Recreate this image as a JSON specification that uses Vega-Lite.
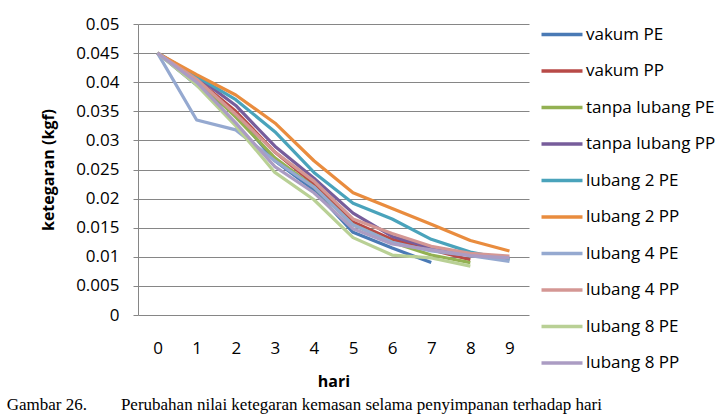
{
  "$schema": "https://vega.github.io/schema/vega-lite/v6.json",
  "autosize": "none",
  "width": 391,
  "height": 291,
  "padding": {"left": 138, "top": 24, "right": 197, "bottom": 101},
  "background": "white",
  "title": {
    "text": "Gambar 26.\u00a0\u00a0\u00a0\u00a0\u00a0\u00a0\u00a0\u00a0Perubahan nilai ketegaran kemasan selama penyimpanan terhadap hari",
    "orient": "bottom",
    "anchor": "start",
    "frame": "bounds",
    "font": "Liberation Serif",
    "fontSize": 17,
    "fontWeight": "normal",
    "color": "black",
    "baseline": "top",
    "offset": 8,
    "dx": -34
  },
  "data": {
    "values": [
      {"hari": 0, "seri": "vakum PE", "ketegaran": 0.045},
      {"hari": 1, "seri": "vakum PE", "ketegaran": 0.0395},
      {"hari": 2, "seri": "vakum PE", "ketegaran": 0.0345},
      {"hari": 3, "seri": "vakum PE", "ketegaran": 0.0265},
      {"hari": 4, "seri": "vakum PE", "ketegaran": 0.0215},
      {"hari": 5, "seri": "vakum PE", "ketegaran": 0.0142},
      {"hari": 6, "seri": "vakum PE", "ketegaran": 0.0115},
      {"hari": 7, "seri": "vakum PE", "ketegaran": 0.009},

      {"hari": 0, "seri": "vakum PP", "ketegaran": 0.045},
      {"hari": 1, "seri": "vakum PP", "ketegaran": 0.0405},
      {"hari": 2, "seri": "vakum PP", "ketegaran": 0.035},
      {"hari": 3, "seri": "vakum PP", "ketegaran": 0.028},
      {"hari": 4, "seri": "vakum PP", "ketegaran": 0.0225},
      {"hari": 5, "seri": "vakum PP", "ketegaran": 0.016},
      {"hari": 6, "seri": "vakum PP", "ketegaran": 0.013},
      {"hari": 7, "seri": "vakum PP", "ketegaran": 0.0112},
      {"hari": 8, "seri": "vakum PP", "ketegaran": 0.0095},

      {"hari": 0, "seri": "tanpa lubang PE", "ketegaran": 0.045},
      {"hari": 1, "seri": "tanpa lubang PE", "ketegaran": 0.0405},
      {"hari": 2, "seri": "tanpa lubang PE", "ketegaran": 0.034},
      {"hari": 3, "seri": "tanpa lubang PE", "ketegaran": 0.027},
      {"hari": 4, "seri": "tanpa lubang PE", "ketegaran": 0.022},
      {"hari": 5, "seri": "tanpa lubang PE", "ketegaran": 0.0155},
      {"hari": 6, "seri": "tanpa lubang PE", "ketegaran": 0.0125},
      {"hari": 7, "seri": "tanpa lubang PE", "ketegaran": 0.0103},
      {"hari": 8, "seri": "tanpa lubang PE", "ketegaran": 0.009},

      {"hari": 0, "seri": "tanpa lubang PP", "ketegaran": 0.045},
      {"hari": 1, "seri": "tanpa lubang PP", "ketegaran": 0.041},
      {"hari": 2, "seri": "tanpa lubang PP", "ketegaran": 0.036},
      {"hari": 3, "seri": "tanpa lubang PP", "ketegaran": 0.029},
      {"hari": 4, "seri": "tanpa lubang PP", "ketegaran": 0.0235},
      {"hari": 5, "seri": "tanpa lubang PP", "ketegaran": 0.0175},
      {"hari": 6, "seri": "tanpa lubang PP", "ketegaran": 0.0135},
      {"hari": 7, "seri": "tanpa lubang PP", "ketegaran": 0.0115},
      {"hari": 8, "seri": "tanpa lubang PP", "ketegaran": 0.0104},
      {"hari": 9, "seri": "tanpa lubang PP", "ketegaran": 0.0097},

      {"hari": 0, "seri": "lubang 2 PE", "ketegaran": 0.045},
      {"hari": 1, "seri": "lubang 2 PE", "ketegaran": 0.041},
      {"hari": 2, "seri": "lubang 2 PE", "ketegaran": 0.037},
      {"hari": 3, "seri": "lubang 2 PE", "ketegaran": 0.0315},
      {"hari": 4, "seri": "lubang 2 PE", "ketegaran": 0.0245},
      {"hari": 5, "seri": "lubang 2 PE", "ketegaran": 0.0192},
      {"hari": 6, "seri": "lubang 2 PE", "ketegaran": 0.0165},
      {"hari": 7, "seri": "lubang 2 PE", "ketegaran": 0.013},
      {"hari": 8, "seri": "lubang 2 PE", "ketegaran": 0.0108},
      {"hari": 9, "seri": "lubang 2 PE", "ketegaran": 0.0095},

      {"hari": 0, "seri": "lubang 2 PP", "ketegaran": 0.045},
      {"hari": 1, "seri": "lubang 2 PP", "ketegaran": 0.0413},
      {"hari": 2, "seri": "lubang 2 PP", "ketegaran": 0.0378},
      {"hari": 3, "seri": "lubang 2 PP", "ketegaran": 0.033},
      {"hari": 4, "seri": "lubang 2 PP", "ketegaran": 0.0265},
      {"hari": 5, "seri": "lubang 2 PP", "ketegaran": 0.021},
      {"hari": 6, "seri": "lubang 2 PP", "ketegaran": 0.0183},
      {"hari": 7, "seri": "lubang 2 PP", "ketegaran": 0.0156},
      {"hari": 8, "seri": "lubang 2 PP", "ketegaran": 0.0128},
      {"hari": 9, "seri": "lubang 2 PP", "ketegaran": 0.011},

      {"hari": 0, "seri": "lubang 4 PE", "ketegaran": 0.045},
      {"hari": 1, "seri": "lubang 4 PE", "ketegaran": 0.0335},
      {"hari": 2, "seri": "lubang 4 PE", "ketegaran": 0.0318},
      {"hari": 3, "seri": "lubang 4 PE", "ketegaran": 0.0265},
      {"hari": 4, "seri": "lubang 4 PE", "ketegaran": 0.022},
      {"hari": 5, "seri": "lubang 4 PE", "ketegaran": 0.0155},
      {"hari": 6, "seri": "lubang 4 PE", "ketegaran": 0.0125},
      {"hari": 7, "seri": "lubang 4 PE", "ketegaran": 0.011},
      {"hari": 8, "seri": "lubang 4 PE", "ketegaran": 0.0102},
      {"hari": 9, "seri": "lubang 4 PE", "ketegaran": 0.0092},

      {"hari": 0, "seri": "lubang 4 PP", "ketegaran": 0.045},
      {"hari": 1, "seri": "lubang 4 PP", "ketegaran": 0.0405},
      {"hari": 2, "seri": "lubang 4 PP", "ketegaran": 0.0345},
      {"hari": 3, "seri": "lubang 4 PP", "ketegaran": 0.028},
      {"hari": 4, "seri": "lubang 4 PP", "ketegaran": 0.023},
      {"hari": 5, "seri": "lubang 4 PP", "ketegaran": 0.0165},
      {"hari": 6, "seri": "lubang 4 PP", "ketegaran": 0.014},
      {"hari": 7, "seri": "lubang 4 PP", "ketegaran": 0.0118},
      {"hari": 8, "seri": "lubang 4 PP", "ketegaran": 0.0106},
      {"hari": 9, "seri": "lubang 4 PP", "ketegaran": 0.0101},

      {"hari": 0, "seri": "lubang 8 PE", "ketegaran": 0.045},
      {"hari": 1, "seri": "lubang 8 PE", "ketegaran": 0.0395},
      {"hari": 2, "seri": "lubang 8 PE", "ketegaran": 0.0325},
      {"hari": 3, "seri": "lubang 8 PE", "ketegaran": 0.0245},
      {"hari": 4, "seri": "lubang 8 PE", "ketegaran": 0.0198},
      {"hari": 5, "seri": "lubang 8 PE", "ketegaran": 0.0133},
      {"hari": 6, "seri": "lubang 8 PE", "ketegaran": 0.0103},
      {"hari": 7, "seri": "lubang 8 PE", "ketegaran": 0.0098},
      {"hari": 8, "seri": "lubang 8 PE", "ketegaran": 0.0084},

      {"hari": 0, "seri": "lubang 8 PP", "ketegaran": 0.045},
      {"hari": 1, "seri": "lubang 8 PP", "ketegaran": 0.04},
      {"hari": 2, "seri": "lubang 8 PP", "ketegaran": 0.033},
      {"hari": 3, "seri": "lubang 8 PP", "ketegaran": 0.0255},
      {"hari": 4, "seri": "lubang 8 PP", "ketegaran": 0.021},
      {"hari": 5, "seri": "lubang 8 PP", "ketegaran": 0.0148},
      {"hari": 6, "seri": "lubang 8 PP", "ketegaran": 0.0122},
      {"hari": 7, "seri": "lubang 8 PP", "ketegaran": 0.0112},
      {"hari": 8, "seri": "lubang 8 PP", "ketegaran": 0.0102},
      {"hari": 9, "seri": "lubang 8 PP", "ketegaran": 0.0098}
    ]
  },
  "mark": {"type": "line", "strokeWidth": 3.2, "strokeJoin": "round"},
  "encoding": {
    "x": {
      "field": "hari",
      "type": "ordinal",
      "scale": {"type": "point", "padding": 0.5},
      "axis": {
        "title": "hari",
        "labelAngle": 0,
        "ticks": false,
        "domain": false,
        "labelPadding": 25,
        "titlePadding": 17
      }
    },
    "y": {
      "field": "ketegaran",
      "type": "quantitative",
      "scale": {"domain": [0, 0.05], "nice": false},
      "axis": {
        "title": "ketegaran (kgf)",
        "values": [0, 0.005, 0.01, 0.015, 0.02, 0.025, 0.03, 0.035, 0.04, 0.045, 0.05],
        "format": "~g",
        "grid": true,
        "tickSize": 5,
        "labelPadding": 14,
        "titlePadding": 19
      }
    },
    "color": {
      "field": "seri",
      "type": "nominal",
      "scale": {
        "domain": ["vakum PE", "vakum PP", "tanpa lubang PE", "tanpa lubang PP", "lubang 2 PE", "lubang 2 PP", "lubang 4 PE", "lubang 4 PP", "lubang 8 PE", "lubang 8 PP"],
        "range": ["#4a7ab5", "#b84a47", "#93b152", "#775d9b", "#4aa3bb", "#e98c3e", "#95a9d0", "#d49794", "#b9d095", "#ab9cc3"]
      },
      "legend": {
        "title": null,
        "orient": "none",
        "legendX": 412,
        "legendY": -1.5,
        "symbolType": "M-2,0H2",
        "symbolSize": 420,
        "symbolStrokeWidth": 3.5,
        "labelOffset": 12,
        "rowPadding": 16.5,
        "labelFontSize": 17,
        "labelFont": "Open Sans",
        "labelColor": "black"
      }
    }
  },
  "config": {
    "view": {"stroke": null},
    "font": "Open Sans",
    "axis": {
      "labelFont": "Open Sans",
      "labelFontSize": 17,
      "labelColor": "black",
      "titleFont": "Open Sans",
      "titleFontSize": 16,
      "titleFontWeight": "bold",
      "titleColor": "black",
      "gridColor": "#868686",
      "gridWidth": 1,
      "domainColor": "#868686",
      "tickColor": "#868686"
    }
  }
}
